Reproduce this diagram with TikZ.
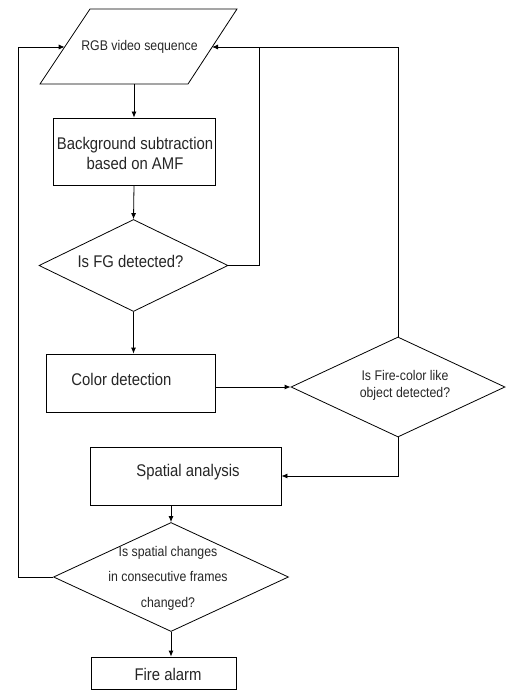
\documentclass[tikz,border=0pt]{standalone}
\usepackage{fontspec}
\setmainfont{Liberation Sans}[FakeStretch=0.88]
\usetikzlibrary{shapes.geometric,arrows.meta}
\tikzset{
  box/.style={draw, line width=0.8pt, rectangle, inner sep=0pt},
  dia/.style={draw, line width=0.8pt, diamond, inner sep=0pt},
  txt/.style={inner sep=0pt, align=center, text=black!85},
  big/.style={font=\fontsize{16.9}{20}\selectfont},
  small/.style={font=\fontsize{14}{17}\selectfont},
  arr/.style={line width=0.8pt, -{Latex[length=6pt,width=5pt]}},
  ln/.style={line width=0.8pt},
}
\begin{document}
\begin{tikzpicture}[x=1pt,y=-1pt]
\useasboundingbox (0,0) rectangle (508,690);
% parallelogram input
\draw[ln] (90,9) -- (237,9) -- (188,84) -- (40,84) -- cycle;
\node[txt,small] (rgb) at (139.5,47) {RGB video sequence};
\coordinate (rgbL) at (64.7,47);
\coordinate (rgbR) at (212,47);
\coordinate (rgbB) at (134,84);
% boxes
\node[box, minimum width=162pt, minimum height=67pt] (bg) at (134,151.5) {};
\node[txt,big] (bgT) at (135,153) {Background subtraction\\based on AMF};
\node[dia, minimum width=189pt, minimum height=92pt] (fg) at (133.5,265.5) {};
\node[txt,big] (fgT) at (130.5,261) {Is FG detected?};
\node[box, minimum width=169pt, minimum height=58pt] (color) at (130.5,383) {};
\node[txt,big] (colorT) at (121.5,379) {Color detection};
\node[dia, minimum width=214pt, minimum height=100pt] (fire) at (398,387) {};
\node[txt,small] (fireT) at (405,385) {Is Fire-color like\\object detected?};
\node[box, minimum width=191pt, minimum height=58pt] (spat) at (185.5,476) {};
\node[txt,big] (spatT) at (188,472) {Spatial analysis};
\node[dia, minimum width=235pt, minimum height=109pt] (chg) at (171,577) {};
\node[txt,small,font=\fontsize{14}{25.5}\selectfont] (chgT) at (168,578) {Is spatial changes\\in consecutive frames\\changed?};
\node[box, minimum width=145pt, minimum height=32pt] (alarm) at (163.5,673) {};
\node[txt,big] (alarmT) at (168,674) {Fire alarm};
% connectors
\coordinate (j1) at (259,47);
\coordinate (lft) at (18,577);
\draw[arr] (rgbB) -- (bg.north);
\draw[arr] (bg.south) -- (fg.north);
\draw[ln] (fg.east) -| (j1);
\draw[arr] (fire.north) |- (rgbR);
\draw[arr] (fg.south) -- (fg.south |- color.north);
\draw[arr] (color.east |- fire.west) -- (fire.west);
\draw[arr] (fire.south) |- (spat.east);
\draw[arr] (spat.south -| chg.north) -- (chg.north);
\draw[ln] (chg.west) -- (lft);
\draw[arr] (lft) |- (rgbL);
\draw[arr] (chg.south) -- (chg.south |- alarm.north);
\end{tikzpicture}
\end{document}
